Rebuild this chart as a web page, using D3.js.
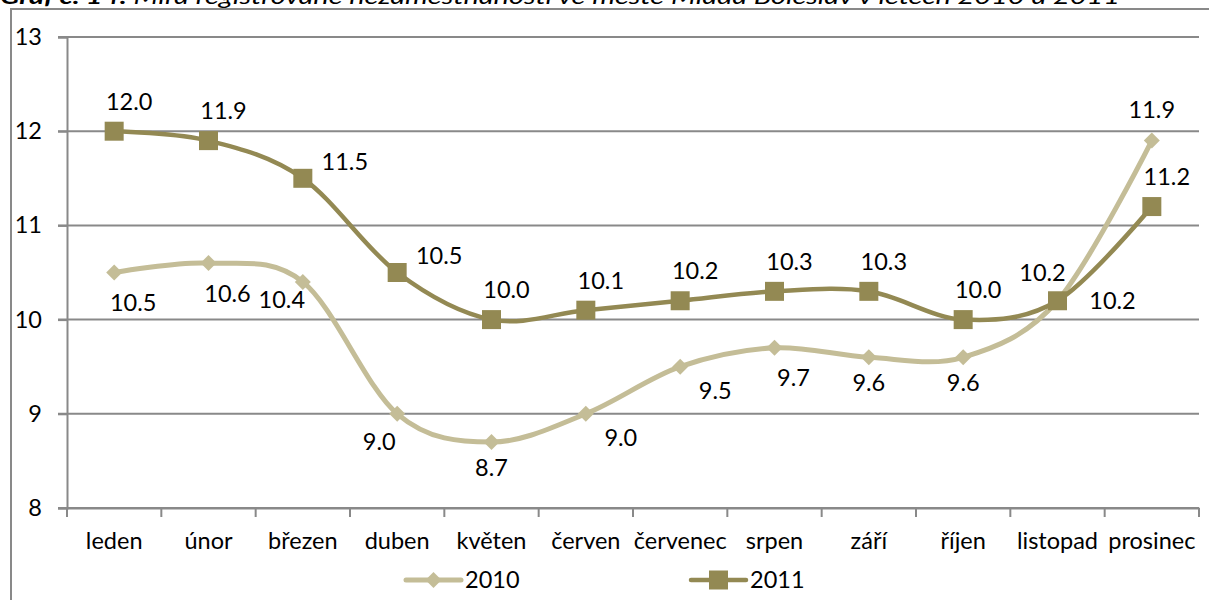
<!DOCTYPE html>
<html>
<head>
<meta charset="utf-8">
<script src="https://cdn.jsdelivr.net/npm/d3@7"></script>
<style>
  body { margin: 0; background: #fff; }
  svg { display: block; }
  text { font-family: Lato, "Open Sans", sans-serif; fill: #000; }
</style>
</head>
<body>
<svg id="chart" width="1209" height="600"></svg>
<script>
// Chart data
const TITLE_BOLD = 'Graf č. 14:';
const TITLE_TEXT = ' Míra registrované nezaměstnanosti ve městě Mladá Boleslav v letech 2010 a 2011';
const MONTHS = ['leden', 'únor', 'březen', 'duben', 'květen', 'červen', 'červenec', 'srpen', 'září', 'říjen', 'listopad', 'prosinec'];
const VALUES_2010 = [10.5, 10.6, 10.4, 9.0, 8.7, 9.0, 9.5, 9.7, 9.6, 9.6, 10.2, 11.9];
const VALUES_2011 = [12.0, 11.9, 11.5, 10.5, 10.0, 10.1, 10.2, 10.3, 10.3, 10.0, 10.2, 11.2];
const Y_TICKS = [8, 9, 10, 11, 12, 13];

// Where each data label sits around its point (label placement codes)
const LABELS_2010 = ['br', 'br', 'l', 'bl', 'b', 'rr', 'rr', 'br', 'b', 'b', 'r', 't'];
const LABELS_2011 = ['tr', 'tr', 'rt', 'rt', 'tr', 'tr', 'tr', 'tr', 'tr', 'tr', 'tl', 'tr'];
const LABEL_OFFSETS = {
  t: [0, -31], tr: [15, -30], tl: [-15, -28], rt: [42, -17],
  b: [0, 25], br: [19, 30], bl: [-18, 28], l: [-21, 18], r: [55, 0], rr: [35, 24]
};

const COLOR_2010 = '#c4bd97';
const COLOR_2011 = '#938953';
const GRID = '#898989';
const FONT = 'Lato, "Open Sans", sans-serif';
const FONT_SIZE = 23.5;

const margin = { top: 37, right: 10, bottom: 92, left: 67 };
const svg = d3.select('#chart');
const width = +svg.attr('width') - margin.left - margin.right;
const height = +svg.attr('height') - margin.top - margin.bottom;

// Outer chart frame (partly outside the window)
svg.append('rect')
  .attr('x', 11).attr('y', 9)
  .attr('width', 1220).attr('height', 620)
  .attr('fill', 'none')
  .attr('stroke', GRID)
  .attr('stroke-width', 2);

// Title, cut off by the top edge as in the source
const title = svg.append('text')
  .attr('x', 0).attr('y', 4)
  .attr('font-size', 21)
  .attr('font-style', 'italic')
  .attr('textLength', 1120)
  .attr('lengthAdjust', 'spacingAndGlyphs');
title.append('tspan').attr('font-weight', 'bold').text(TITLE_BOLD);
title.append('tspan').text(TITLE_TEXT);

const g = svg.append('g').attr('transform', `translate(${margin.left},${margin.top})`);

const x = d3.scaleBand().domain(MONTHS).range([0, width]);
const y = d3.scaleLinear().domain([8, 13]).range([height, 0]);

// Horizontal gridlines
g.selectAll('.grid')
  .data(Y_TICKS)
  .enter()
  .append('line')
  .attr('class', 'grid')
  .attr('x1', -9).attr('x2', width)
  .attr('y1', d => y(d)).attr('y2', d => y(d))
  .attr('stroke', GRID)
  .attr('stroke-width', 2);

// Y axis
const yAxis = g.append('g')
  .call(d3.axisLeft(y).tickValues(Y_TICKS).tickSize(9).tickPadding(16).tickFormat(d3.format('d')));
yAxis.select('.domain').attr('stroke', GRID).attr('stroke-width', 2);
yAxis.selectAll('.tick line').attr('stroke', GRID).attr('stroke-width', 2);
yAxis.selectAll('.tick text').attr('font-size', FONT_SIZE).attr('font-family', FONT).attr('fill', '#000');

// X axis with ticks at band edges
const xAxis = g.append('g')
  .attr('transform', `translate(0,${height})`)
  .call(d3.axisBottom(x).tickSize(0).tickPadding(27));
xAxis.select('.domain').attr('stroke', GRID).attr('stroke-width', 2);
xAxis.selectAll('.tick text')
  .attr('font-size', FONT_SIZE).attr('font-family', FONT).attr('fill', '#000')
  .attr('dy', '0.6em');
const edges = MONTHS.map(m => x(m)).concat([width]);
xAxis.selectAll('.edge')
  .data(edges)
  .enter()
  .append('line')
  .attr('x1', d => d).attr('x2', d => d)
  .attr('y1', 0).attr('y2', 9)
  .attr('stroke', GRID)
  .attr('stroke-width', 2);

const cx = i => x(MONTHS[i]) + x.bandwidth() / 2;
const line = d3.line()
  .x((d, i) => cx(i))
  .y(d => y(d))
  .curve(d3.curveCardinal.tension(0));

const diamond = s => `M0,${-s}L${s},0L0,${s}L${-s},0Z`;
const square = s => `M${-s},${-s}H${s}V${s}H${-s}Z`;

function drawSeries(values, color, lineWidth, shape, placements) {
  g.append('path')
    .datum(values)
    .attr('d', line)
    .attr('fill', 'none')
    .attr('stroke', color)
    .attr('stroke-width', lineWidth);

  g.selectAll(null)
    .data(values)
    .enter()
    .append('path')
    .attr('d', shape)
    .attr('transform', (d, i) => `translate(${cx(i)},${y(d)})`)
    .attr('fill', color);

  g.selectAll(null)
    .data(values)
    .enter()
    .append('text')
    .attr('x', (d, i) => cx(i) + LABEL_OFFSETS[placements[i]][0])
    .attr('y', (d, i) => y(d) + LABEL_OFFSETS[placements[i]][1])
    .attr('dy', '0.36em')
    .attr('text-anchor', 'middle')
    .attr('font-size', FONT_SIZE)
    .text(d => d3.format('.1f')(d));
}

drawSeries(VALUES_2010, COLOR_2010, 5, diamond(8), LABELS_2010);
drawSeries(VALUES_2011, COLOR_2011, 4.5, square(9.5), LABELS_2011);

// Legend
const legend = [
  { name: '2010', color: COLOR_2010, shape: diamond(8), x: 406, w: 5 },
  { name: '2011', color: COLOR_2011, shape: square(9.5), x: 691, w: 4.5 }
];
const item = svg.selectAll('.legend')
  .data(legend)
  .enter()
  .append('g')
  .attr('class', 'legend')
  .attr('transform', d => `translate(${d.x},580)`);
item.append('line')
  .attr('x1', 0).attr('x2', 55)
  .attr('stroke', d => d.color)
  .attr('stroke-width', d => d.w)
  .attr('stroke-linecap', 'round');
item.append('path')
  .attr('d', d => d.shape)
  .attr('transform', 'translate(27.5,0)')
  .attr('fill', d => d.color);
item.append('text')
  .attr('x', 59)
  .attr('dy', '0.36em')
  .attr('font-size', FONT_SIZE)
  .text(d => d.name);
</script>
</body>
</html>
